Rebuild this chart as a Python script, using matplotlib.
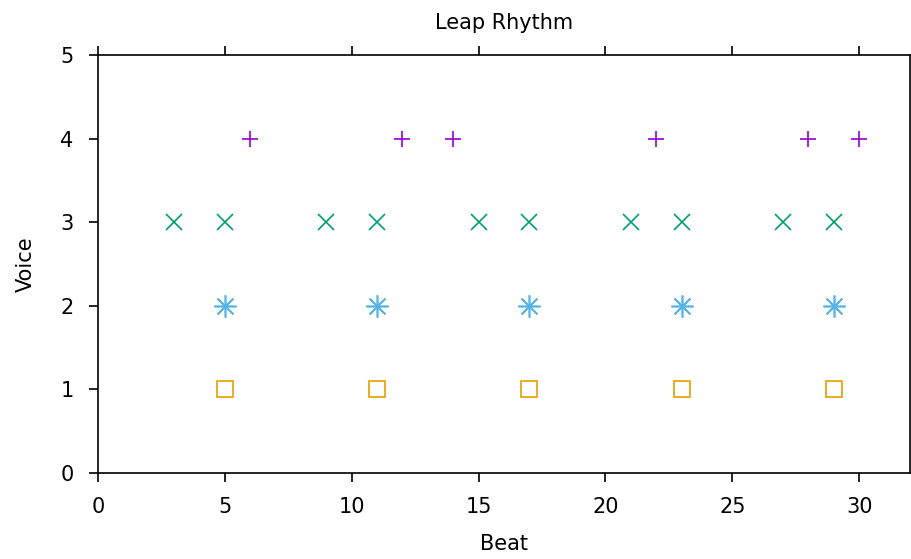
import matplotlib
matplotlib.use("Agg")
import matplotlib.pyplot as plt

# beats per voice
voice4_beats = [6, 12, 14, 22, 28, 30]
voice3_beats = [3, 5, 9, 11, 15, 17, 21, 23, 27, 29]
voice2_beats = [5, 11, 17, 23, 29]
voice1_beats = [5, 11, 17, 23, 29]

x_ticks = [0, 5, 10, 15, 20, 25, 30]
y_ticks = [0, 1, 2, 3, 4, 5]

fig = plt.figure(figsize=(9.12, 5.59), dpi=100)
ax = fig.add_axes([98 / 912, 1 - 473 / 559, 812 / 912, 418 / 559])

ax.plot(voice4_beats, [4] * len(voice4_beats), linestyle='none', marker='+',
        color='#9400d3', markersize=12, markeredgewidth=1.2)
ax.plot(voice3_beats, [3] * len(voice3_beats), linestyle='none', marker='x',
        color='#009e73', markersize=11, markeredgewidth=1.2)
ax.plot(voice2_beats, [2] * len(voice2_beats), linestyle='none', marker=(8, 2, 0),
        color='#56b4e9', markersize=16, markeredgewidth=1.2)
ax.plot(voice1_beats, [1] * len(voice1_beats), linestyle='none', marker='s',
        color='#e69f00', markersize=12, markeredgewidth=1.2, markerfacecolor='none')

ax.set_xlim(0, 32)
ax.set_ylim(0, 5)
ax.set_xticks(x_ticks)
ax.set_yticks(y_ticks)
ax.tick_params(axis='both', direction='out', length=6.5, width=1.2, labelsize=15, pad=11)
ax.tick_params(axis='x', top=True)
for sp in ax.spines.values():
    sp.set_linewidth(1.2)

ax.set_xlabel('Beat', fontsize=15, labelpad=12)
ax.set_ylabel('Voice', fontsize=15, labelpad=18)
ax.set_title('Leap Rhythm', fontsize=15, pad=19)

fig.savefig('out.png', dpi=100)
